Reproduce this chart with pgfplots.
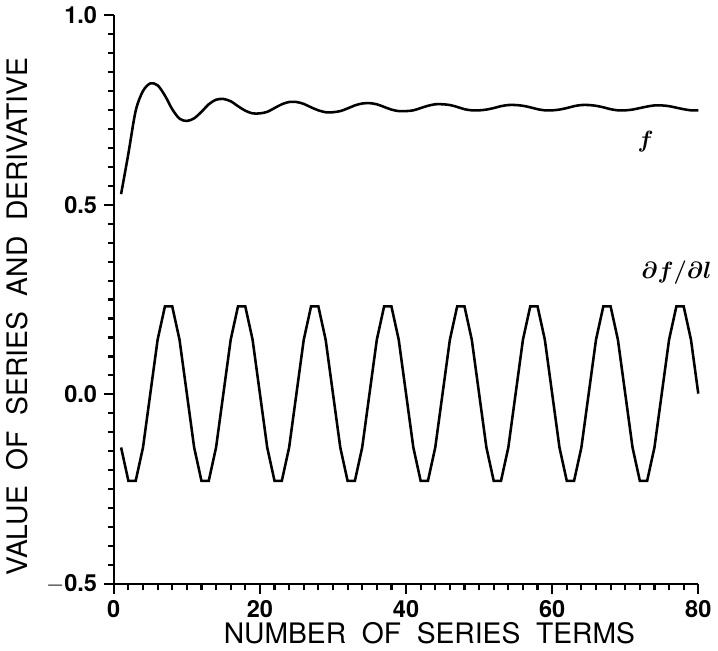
\documentclass[border=0pt]{standalone}
\usepackage{fontspec}
\setmainfont{TeX Gyre Heros}
\usepackage{bm}
\usepackage{pgfplots}
\usepackage{pgfplotstable}
\pgfplotsset{compat=1.18}
\pgfplotstableread{
n f d
1 0.528 -0.140
2 0.635 -0.228
3 0.748 -0.228
4 0.800 -0.140
5 0.820 0.002
6 0.815 0.144
7 0.788 0.232
8 0.752 0.232
9 0.727 0.144
10 0.721 0.002
11 0.728 -0.140
12 0.745 -0.228
13 0.765 -0.228
14 0.777 -0.140
15 0.779 0.002
16 0.773 0.144
17 0.760 0.232
18 0.748 0.232
19 0.741 0.144
20 0.741 0.002
21 0.745 -0.140
22 0.755 -0.228
23 0.765 -0.228
24 0.771 -0.140
25 0.771 0.002
26 0.766 0.144
27 0.757 0.232
28 0.749 0.232
29 0.744 0.144
30 0.744 0.002
31 0.747 -0.140
32 0.754 -0.228
33 0.762 -0.228
34 0.767 -0.140
35 0.768 0.002
36 0.765 0.144
37 0.758 0.232
38 0.751 0.232
39 0.747 0.144
40 0.747 0.002
41 0.749 -0.140
42 0.755 -0.228
43 0.761 -0.228
44 0.765 -0.140
45 0.765 0.002
46 0.763 0.144
47 0.758 0.232
48 0.752 0.232
49 0.749 0.144
50 0.749 0.002
51 0.751 -0.140
52 0.755 -0.228
53 0.760 -0.228
54 0.763 -0.140
55 0.763 0.002
56 0.761 0.144
57 0.757 0.232
58 0.752 0.232
59 0.749 0.144
60 0.749 0.002
61 0.751 -0.140
62 0.755 -0.228
63 0.760 -0.228
64 0.763 -0.140
65 0.763 0.002
66 0.761 0.144
67 0.757 0.232
68 0.752 0.232
69 0.749 0.144
70 0.749 0.002
71 0.751 -0.140
72 0.755 -0.228
73 0.759 -0.228
74 0.762 -0.140
75 0.762 0.002
76 0.760 0.144
77 0.756 0.232
78 0.752 0.232
79 0.749 0.144
80 0.749 0.002
}\datatable
\begin{document}
\begin{tikzpicture}
\begin{axis}[
  scale only axis,
  width=298pt, height=290pt,
  xmin=0, xmax=80, ymin=-0.5, ymax=1.0,
  axis lines=left,
  axis line style={-, line width=1.1pt},
  xtick={0,20,40,60,80},
  xticklabels={0,20,40,60,80},
  ytick={-0.5,0,0.5,1.0},
  yticklabels={$-$0.5,0.0,0.5,1.0},
  minor x tick num=9,
  minor y tick num=9,
  tick align=outside,
  tickwidth=5pt,
  subtickwidth=3.2pt,
  xtick style={draw=black, line width=1.1pt},
  ytick style={draw=black, line width=1.1pt},
  ticklabel style={font=\large\bfseries},
  xlabel={NUMBER\ \ OF\ \ SERIES\ \ TERMS},
  ylabel={VALUE\ \ OF\ \ SERIES\ \ AND\ \ DERIVATIVE},
  label style={font=\Large},
  xlabel style={at={(axis description cs:0.54,0)}, anchor=center, yshift=-25pt},
  ylabel style={at={(axis description cs:-0.165,0.47)}, anchor=center},
  clip=false,
]
\addplot[black, line width=1.3pt, smooth, mark=none] table[x=n, y=f] {\datatable};
\addplot[black, line width=1.3pt, mark=none] table[x=n, y=d] {\datatable};
\node[font=\large] at (axis cs:72.8,0.667) {$\bm{f}$};
\node[font=\large] at (axis cs:77.0,0.32) {$\bm{\partial f/\partial l}$};
\end{axis}
\end{tikzpicture}
\end{document}
